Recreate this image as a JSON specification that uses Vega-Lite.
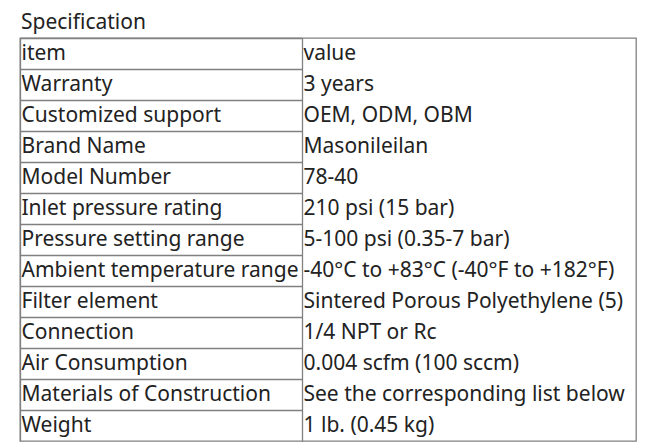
{
  "$schema": "https://vega.github.io/schema/vega-lite/v6.json",
  "width": 616,
  "height": 403,
  "autosize": "none",
  "padding": {"left": 20, "top": 38, "right": 16, "bottom": 7},
  "background": "white",
  "title": {
    "text": "Specification",
    "anchor": "start",
    "frame": "group",
    "font": "Noto Sans",
    "fontSize": 21,
    "fontWeight": "normal",
    "color": "#222222",
    "baseline": "bottom",
    "offset": -16,
    "dx": 1
  },
  "config": {
    "view": {"stroke": "#808080", "strokeWidth": 1.3},
    "font": "Noto Sans"
  },
  "data": {
    "values": [
      {"row": 0, "item": "item", "value": "value"},
      {"row": 1, "item": "Warranty", "value": "3 years"},
      {"row": 2, "item": "Customized support", "value": "OEM, ODM, OBM"},
      {"row": 3, "item": "Brand Name", "value": "Masonileilan"},
      {"row": 4, "item": "Model Number", "value": "78-40"},
      {"row": 5, "item": "Inlet pressure rating", "value": "210 psi (15 bar)"},
      {"row": 6, "item": "Pressure setting range", "value": "5-100 psi (0.35-7 bar)"},
      {"row": 7, "item": "Ambient temperature range", "value": "-40°C to +83°C (-40°F to +182°F)"},
      {"row": 8, "item": "Filter element", "value": "Sintered Porous Polyethylene (5)"},
      {"row": 9, "item": "Connection", "value": "1/4 NPT or Rc"},
      {"row": 10, "item": "Air Consumption", "value": "0.004 scfm (100 sccm)"},
      {"row": 11, "item": "Materials of Construction", "value": "See the corresponding list below"},
      {"row": 12, "item": "Weight", "value": "1 lb. (0.45 kg)"}
    ]
  },
  "transform": [
    {"fold": ["item", "value"], "as": ["column", "text"]}
  ],
  "mark": {
    "type": "text",
    "align": "left",
    "baseline": "middle",
    "dx": 1.5,
    "dy": 0.5,
    "fontSize": 21,
    "color": "#222222"
  },
  "encoding": {
    "x": {
      "field": "column",
      "type": "nominal",
      "scale": {"type": "point", "domain": ["item", "value"], "range": [0, 282], "padding": 0},
      "axis": {
        "title": null,
        "labels": false,
        "ticks": false,
        "domain": false,
        "grid": true,
        "gridColor": "#808080",
        "gridWidth": 1.3,
        "gridOpacity": 1
      }
    },
    "y": {
      "field": "row",
      "type": "ordinal",
      "scale": {"type": "band", "paddingInner": 0, "paddingOuter": 0},
      "axis": {
        "title": null,
        "labels": false,
        "ticks": false,
        "domain": false,
        "grid": true,
        "bandPosition": 0,
        "gridColor": "#808080",
        "gridWidth": 1.3,
        "gridOpacity": 1
      }
    },
    "text": {"field": "text", "type": "nominal"}
  }
}
